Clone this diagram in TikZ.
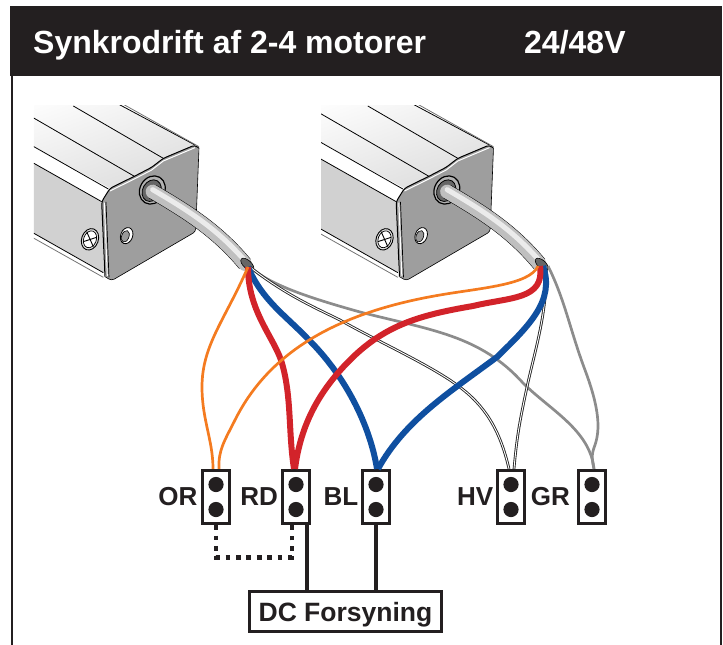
\documentclass[tikz,border=0pt]{standalone}
\usepackage{fontspec}
\setmainfont{Liberation Sans}
\usetikzlibrary{calc}

\definecolor{inkblack}{HTML}{231F20}
\definecolor{wireorange}{HTML}{F47B20}
\definecolor{wirered}{HTML}{D2232A}
\definecolor{wireblue}{HTML}{0F4FA0}
\definecolor{wiregray}{HTML}{8C8C8C}

\tikzset{
  conn/.style={draw=inkblack,line width=2.7pt,fill=white,minimum width=27.5pt,minimum height=53.5pt,inner sep=0pt},
  lbl/.style={inkblack,font=\fontsize{26}{26}\selectfont\bfseries,inner sep=0pt},
  orwire/.style={wireorange,line width=2.7pt},
  rdwire/.style={wirered,line width=6pt},
  blwire/.style={wireblue,line width=6pt},
  grwire/.style={wiregray,line width=2.7pt},
  hvwire/.style={double=white,draw=black!85,line width=.9pt,double distance=.9pt},
  powerline/.style={inkblack,line width=4.6pt},
  bridge/.style={inkblack,line width=4.8pt,dash pattern=on 4.8pt off 5.6pt},
  hull/.style={black,line width=.8pt}
}

% motor end, in units of a third of a pixel
\newcommand{\drawmotor}[2]{
\begin{scope}[shift={(#1,80)},x=0.3333pt,y=-0.3333pt]
\begin{scope}
\clip (#2,78) rectangle (900,700);
% long faces
\shade[left color=white,right color=black!13,shading angle=20] (70,0) -- (220,0) -- (585,195) -- (330,325) -- (70,182) -- cycle;
\fill[black!18] (70,232) -- (305,365) -- (312,578) -- (70,442) -- cycle;
\draw[hull] (220,78) -- (490,235);
\draw[hull] (70,96) -- (405,290);
\draw[hull] (70,182) -- (325,327);
\draw[hull] (70,232) -- (305,365);
\draw[hull] (70,442) -- (310,578);
\draw[hull,black!55] (70,457) -- (310,592);
\draw[hull] (220,0) -- (585,195);
\draw[hull,black!55] (240,0) -- (597,200);
\end{scope}
% end face
\fill[black!38,rounded corners=3pt] (330,325) -- (405,288) -- (455,262) -- (490,235) -- (585,195) -- (597,205) -- (587,455) -- (335,602) -- (315,590) -- (305,365) -- cycle;
\draw[black,line width=.6pt,rounded corners=3pt] (597,205) -- (587,455) -- (335,602) -- (315,590);
\draw[black,line width=1pt,rounded corners=3pt] (315,590) -- (305,365) -- (330,325) -- (405,288) -- (455,262) -- (490,235) -- (585,195) -- (597,205);
\draw[white,line width=1pt] (330,333) -- (405,296) -- (455,270) -- (490,243) -- (585,203);
\draw[white,line width=1pt] (313,368) -- (322,588);
\draw[black,line width=.7pt] (318,366) -- (327,592);
% grommet
\draw[black,line width=1.2pt,fill=black!30] (457,330) ellipse [x radius=37,y radius=44,rotate=-30];
\draw[black,line width=.8pt,fill=black!60] (455,332) ellipse [x radius=27,y radius=34,rotate=-30];
% hole
\draw[black,line width=.8pt,fill=white] (380,467) ellipse [x radius=18,y radius=25,rotate=-20];
\draw[black,line width=.6pt,fill=black!40] (376,469) ellipse [x radius=11,y radius=18,rotate=-20];
% screw
\draw[black,line width=.9pt,fill=black!12] (270,478) ellipse [x radius=25,y radius=33,rotate=-20];
\draw[black,line width=.7pt,fill=white] (270,478) ellipse [x radius=19,y radius=26,rotate=-20];
\draw[black,line width=.9pt] (260,455) -- (280,500) (250,485) -- (290,472);
% cable
\draw[black,line width=15pt] (458,335) .. controls (560,395) and (650,450) .. (735,552);
\draw[black!25,line width=14pt,line cap=round] (458,335) .. controls (560,395) and (650,450) .. (735,552);
\draw[black!8,line width=5pt,line cap=round] (458,329) .. controls (560,389) and (650,444) .. (738,546);
\draw[black,line width=.6pt,fill=black!60] (742,553) ellipse [x radius=24,y radius=12,rotate=-42];
\end{scope}
}

\begin{document}
\begin{tikzpicture}[x=1pt,y=-1pt]
\useasboundingbox (0,0) rectangle (723,645);

% frame and title
\fill[inkblack] (10,6) rectangle (722,76);
\draw[inkblack,line width=2pt] (12,76) -- (12,645);
\draw[inkblack,line width=2pt] (721,76) -- (721,645);
\node (title) at (33,45) [right,white,inner sep=0pt,font=\fontsize{32}{32}\selectfont\bfseries] {Synkrodrift af 2-4 motorer};
\node (volt) at (524,42) [right,white,inner sep=0pt,font=\fontsize{32}{32}\selectfont\bfseries] {24/48V};

% motors
\drawmotor{0}{102}
\drawmotor{294.5}{80}
\coordinate (tipA) at (248,267);
\coordinate (tipB) at (543,266);

% connectors
\node[conn] (or) at (216,497) {};
\node[conn] (rd) at (296,497) {};
\node[conn] (bl) at (376,497) {};
\node[conn] (hv) at (511,497) {};
\node[conn] (gr) at (592,497) {};
\foreach \conn in {or,rd,bl,hv,gr} {
  \fill[inkblack] ($(\conn.center)+(0,-12.5)$) circle (7.6pt);
  \fill[inkblack] ($(\conn.center)+(0,12.5)$) circle (7.6pt);
}
\node (orlabel) at (197.5,497) [left,lbl] {OR};
\node (rdlabel) at (278,497) [left,lbl] {RD};
\node (bllabel) at (358.5,497) [left,lbl] {BL};
\node (hvlabel) at (493.5,497) [left,lbl] {HV};
\node (grlabel) at (570,497) [left,lbl] {GR};

% gray wires
\draw[grwire] ([xshift=2pt]tipA) .. controls (270,285) and (310,298) .. (360,312) .. controls (430,330) and (480,335) .. (523,383) .. controls (550,410) and (590,430) .. ([xshift=2pt]gr.north);
\draw[grwire] ([xshift=5pt]tipB) .. controls (565,300) and (570,330) .. (585,370) .. controls (600,410) and (600,430) .. (595,445) .. controls (591,455) and (592,460) .. ([xshift=2pt]gr.north);

% white wires
\draw[hvwire] ([xshift=2pt]tipA) .. controls (285,295) and (320,310) .. (340,320) .. controls (375,340) and (430,365) .. (457,385) .. controls (485,405) and (500,430) .. ([xshift=-2pt]hv.north);
\draw[hvwire] ([xshift=3pt]tipB) .. controls (548,310) and (535,350) .. (527,387) .. controls (520,420) and (517,435) .. ([xshift=3pt]hv.north);

% blue wires
\draw[blwire] (tipA) .. controls (262,300) and (285,315) .. (307,338) .. controls (345,375) and (370,425) .. ([xshift=1pt]bl.north);
\draw[blwire] (tipB) .. controls (555,300) and (530,325) .. (497,357) .. controls (450,392) and (405,420) .. ([xshift=2pt]bl.north);

% red wires
\draw[rdwire] (tipA) .. controls (248,310) and (272,335) .. (281,360) .. controls (292,395) and (288,430) .. ([xshift=-2pt]rd.north);
\draw[rdwire] ([xshift=-3pt]tipB) .. controls (545,300) and (510,297) .. (473,306) .. controls (420,315) and (385,325) .. (350,360) .. controls (315,395) and (300,430) .. ([xshift=-1pt]rd.north);

% orange wires
\draw[orwire] (tipA) .. controls (225,320) and (202,345) .. (202,387) .. controls (202,420) and (213,440) .. ([xshift=-3pt]or.north);
\draw[orwire] ([xshift=-5pt]tipB) .. controls (530,285) and (480,288) .. (440,295) .. controls (340,312) and (270,350) .. (235,420) .. controls (225,440) and (218,450) .. ([xshift=3pt]or.north);

% power supply
\node (dc) at (345.5,611.5) [draw=inkblack,line width=2.7pt,fill=white,minimum width=192pt,minimum height=40pt,inner sep=0pt,text height=19pt,text depth=0pt,text=inkblack,font=\fontsize{26.5}{26.5}\selectfont\bfseries] {DC Forsyning};
\coordinate (rdfoot) at ([xshift=11pt]rd.south);
\draw[powerline] (rdfoot) -- (rdfoot |- dc.north);
\draw[powerline] (bl.south) -- (bl.south |- dc.north);
\draw[bridge] (or.south) -- ++(0,32) -| ([xshift=-4pt]rd.south);
\end{tikzpicture}
\end{document}
